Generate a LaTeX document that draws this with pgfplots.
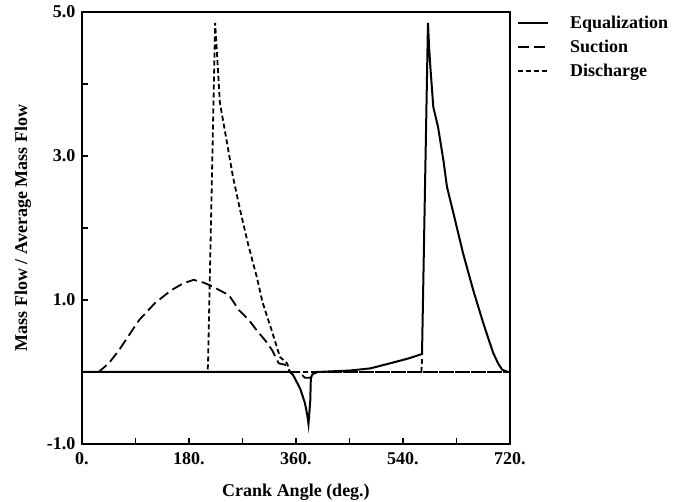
\documentclass[border=0pt]{standalone}
\usepackage{pgfplots}
\pgfplotsset{compat=1.18}
\usepackage{fontspec}
\setmainfont{Liberation Serif}

\begin{document}
\begin{tikzpicture}
\begin{axis}[
  scale only axis,
  width=428pt, height=432pt,
  xmin=0, xmax=720, ymin=-1, ymax=5,
  xtick={0,180,360,540,720},
  xticklabels={0.,180.,360.,540.,720.},
  minor xtick={90,270,450,630},
  ytick={-1,1,3,5},
  yticklabels={-1.0,1.0,3.0,5.0},
  minor ytick={0,2,4},
  xtick pos=left, ytick pos=left,
  tick align=inside,
  major tick length=6pt, minor tick length=6pt,
  tick style={line width=1.6pt, black},
  axis line style={line width=2.6pt},
  font=\fontsize{18}{21}\selectfont\bfseries,
  ticklabel style={font=\fontsize{18}{21}\selectfont\bfseries},
  xticklabel style={yshift=-5pt},
  yticklabel style={xshift=-3pt},
  /pgf/number format/assume math mode=true,
  xlabel={Crank Angle (deg.)},
  ylabel={Mass Flow / Average Mass Flow},
  xlabel style={yshift=-12pt},
  ylabel style={yshift=9pt},
  legend style={at={(1,1)}, anchor=north west, xshift=7pt, yshift=1pt,
    draw=none, fill=none, inner sep=0pt, column sep=0pt, row sep=0pt,
    font=\fontsize{18}{21}\selectfont\bfseries,
    nodes={inner xsep=0pt, inner ysep=3pt, text height=14pt, text depth=4pt}},
  legend cell align=left,
  legend image code/.code={\draw[#1] (0pt,0pt) -- (30pt,0pt); \path (51pt,0pt);},
]
% Equalization
\addplot[black, line width=2pt] coordinates {
(0,0) (350,0) (355,-0.04) (367,-0.23) (375,-0.43) (379,-0.6) (381,-0.72)
(384,-0.4) (385,-0.08) (388,-0.03) (395,0) (450,0.02) (485,0.05) (518,0.12)
(550,0.19) (572,0.25) (582,4.85) (584,4.5) (586,4.24) (591,3.68) (599,3.4)
(608,2.94) (614,2.57) (625,2.2) (641,1.65) (658,1.14) (675,0.68) (685,0.43)
(692,0.26) (700,0.12) (707,0.03) (717,0) (720,0)
};
\addlegendentry{Equalization}
% Suction
\addplot[black, line width=1.8pt, dash pattern=on 11pt off 5pt] coordinates {
(0,0) (28,0) (45,0.12) (62,0.3) (96,0.72) (123,0.96) (151,1.14) (170,1.23)
(188,1.28) (205,1.24) (219,1.19) (235,1.12) (247,1.07) (256,0.96) (264,0.86)
(281,0.72) (292,0.6) (303,0.49) (312,0.4) (320,0.3) (331,0.12) (342,0.1)
(350,0) (365,0) (375,-0.08) (385,-0.08) (395,0) (720,0)
};
\addlegendentry{Suction}
% Discharge
\addplot[black, line width=1.8pt, dash pattern=on 5pt off 3pt] coordinates {
(0,0) (211,0) (212,0.1) (224,4.85) (232,3.74) (244,3.18) (254,2.71)
(266,2.25) (279,1.79) (294,1.32) (304,0.96) (319,0.58) (333,0.21)
(345,0.12) (350,0) (720,0)
};
\addlegendentry{Discharge}
\addplot[black, line width=1.8pt, dash pattern=on 5pt off 3pt, forget plot] coordinates {
(571,0) (572,0.18)
};
\end{axis}
\pgfresetboundingbox
\path (current axis.south west) ++(-82pt,-58pt) rectangle ++(683pt,502pt);
\end{tikzpicture}
\end{document}
